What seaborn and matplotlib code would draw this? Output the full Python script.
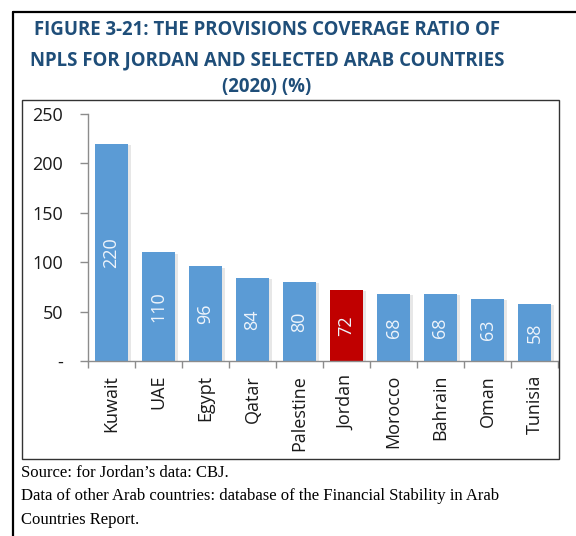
import matplotlib
matplotlib.use("Agg")
import matplotlib.pyplot as plt
import matplotlib.patheffects as pe
from matplotlib.lines import Line2D
from matplotlib.patches import Rectangle
import seaborn as sns
import pandas as pd

countries = ["Kuwait", "UAE", "Egypt", "Qatar", "Palestine", "Jordan",
             "Morocco", "Bahrain", "Oman", "Tunisia"]
ratios = [220, 110, 96, 84, 80, 72, 68, 68, 63, 58]
highlight = "Jordan"
y_ticks = [0, 50, 100, 150, 200, 250]
y_tick_labels = ["-", "50", "100", "150", "200", "250"]
title_lines = ["FIGURE 3-21: THE PROVISIONS COVERAGE RATIO OF",
               "NPLS FOR JORDAN AND SELECTED ARAB COUNTRIES",
               "(2020) (%)"]
source_lines = ["Source: for Jordan\u2019s data: CBJ.",
                "Data of other Arab countries: database of the Financial Stability in Arab",
                "Countries Report."]

BLUE = "#5B9BD5"
RED = "#C00000"
TITLE_BLUE = "#1F4E79"
AXIS_GREY = "#8C8C8C"

sns.set_theme(style="white")
plt.rcParams["font.family"] = ["Open Sans", "DejaVu Sans"]

W, H = 576, 536
fig = plt.figure(figsize=(W / 100, H / 100), dpi=100)


def fx(px):
    return px / W


def fy(py):
    return 1 - py / H


# page frame and chart box
fig.add_artist(Line2D([fx(13), fx(576)], [fy(12), fy(12)], color="black", lw=1.6,
                      transform=fig.transFigure))
fig.add_artist(Line2D([fx(13), fx(13)], [fy(12), fy(536)], color="black", lw=1.6,
                      transform=fig.transFigure))
fig.add_artist(Rectangle((fx(22), fy(459)), fx(559) - fx(22), fy(100) - fy(459),
                         fill=False, edgecolor="#333333", lw=1.0,
                         transform=fig.transFigure))

for i, line in enumerate(title_lines):
    fig.text(fx(267), fy([35, 65, 92][i]), line, ha="center", va="baseline",
             fontsize=13.4, fontweight="bold", color=TITLE_BLUE)

for i, line in enumerate(source_lines):
    fig.text(fx(21), fy([477, 500, 524][i]), line, ha="left", va="baseline",
             family="Liberation Serif", fontsize=12, color="black")

ax = fig.add_axes([fx(88), fy(361), fx(558) - fx(88), fy(114) - fy(361)])

df = pd.DataFrame({"country": countries, "ratio": ratios})
palette = {c: (RED if c == highlight else BLUE) for c in countries}
sns.barplot(data=df, x="country", y="ratio", hue="country", palette=palette,
            legend=False, width=0.72, saturation=1, ax=ax)

for patch in ax.patches:
    patch.set_edgecolor("none")
    patch.set_path_effects([
        pe.SimplePatchShadow(offset=(1.5, -1), shadow_rgbFace="#b0b0b0", alpha=0.3),
        pe.Normal(),
    ])

for i, v in enumerate(ratios):
    ax.text(i, v / 2, f"{v}", rotation=90, ha="center", va="center",
            fontsize=13, color="#EEF4FB")

ax.set_xlim(-0.5, len(countries) - 0.5)
ax.set_ylim(0, 250)
ax.set_yticks(y_ticks)
ax.set_yticklabels(y_tick_labels)
ax.set_xticks(range(len(countries)))
ax.set_xticklabels(countries, rotation=90)
ax.set_xlabel("")
ax.set_ylabel("")

# category boundary ticks on the x axis
ax.set_xticks([i - 0.5 for i in range(len(countries) + 1)], minor=True)
ax.tick_params(axis="x", which="major", length=0, pad=10, labelsize=13,
               labelcolor="#1a1a1a")
ax.tick_params(axis="x", which="minor", length=5, width=1, color=AXIS_GREY,
               direction="out", bottom=True)
ax.tick_params(axis="y", length=6, width=1, color=AXIS_GREY, direction="out",
               pad=12, labelsize=13, labelcolor="#1a1a1a", left=True)

for side in ["top", "right"]:
    ax.spines[side].set_visible(False)
for side in ["left", "bottom"]:
    ax.spines[side].set_color(AXIS_GREY)
    ax.spines[side].set_linewidth(1.0)

ax.patch.set_alpha(0)
fig.savefig("out.png", dpi=100)
